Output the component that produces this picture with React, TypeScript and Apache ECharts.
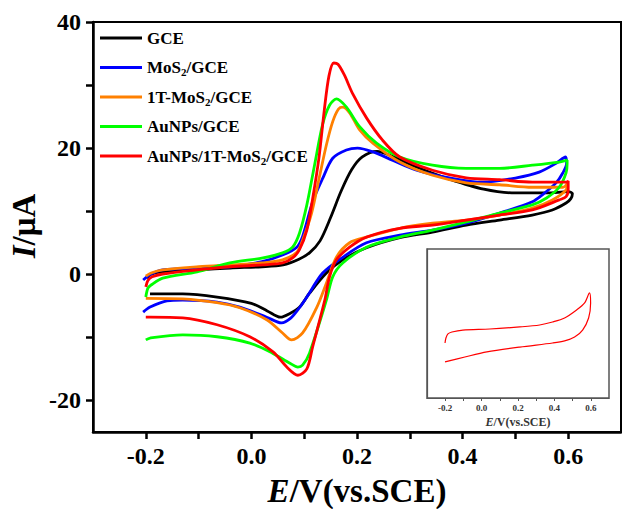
import React, { useEffect, useRef } from "react";
import * as echarts from "echarts";

const seriesNames = ["GCE", "MoS2/GCE", "1T-MoS2/GCE", "AuNPs/GCE", "AuNPs/1T-MoS2/GCE"];
const seriesColors = ["#000000", "#0000ff", "#ff8000", "#00ff00", "#ff0000"];

const xTickLabels = [-0.2, 0, 0.2, 0.4, 0.6];
const xTicks = [-0.2, -0.1, 0, 0.1, 0.2, 0.3, 0.4, 0.5, 0.6];
const yTickLabels = [-20, 0, 20, 40];
const yTicks = [-20, -10, 0, 10, 20, 30, 40];

const gce: number[][] = [
  [-0.198, -0.6], [-0.19, 0.0], [-0.17, 0.4], [-0.1, 0.7], [-0.04, 1.0], [0.02, 1.2], [0.06, 1.5],
  [0.09, 2.4], [0.11, 3.4], [0.13, 5.3], [0.15, 9.0], [0.17, 13.2], [0.19, 16.6], [0.21, 18.6],
  [0.238, 19.5], [0.267, 18.7], [0.31, 17.1], [0.375, 15.1], [0.44, 13.5], [0.5, 12.9], [0.56, 12.9],
  [0.6, 13.1], [0.608, 12.8],
  [0.605, 12.0], [0.596, 11.3], [0.57, 10.2], [0.532, 9.4], [0.47, 8.6], [0.407, 7.8], [0.343, 6.7],
  [0.281, 5.8], [0.218, 4.2], [0.173, 2.3], [0.142, 0.2], [0.11, -3.0], [0.091, -5.2], [0.073, -6.2],
  [0.055, -6.8], [0.03, -5.8], [0.0, -4.6], [-0.065, -3.6], [-0.13, -3.1], [-0.192, -3.1],
];

const mos2: number[][] = [
  [-0.205, -0.9], [-0.19, 0.05], [-0.168, 0.7], [-0.1, 1.0], [-0.04, 1.2], [0.02, 2.0], [0.06, 3.1],
  [0.086, 4.3], [0.097, 6.0], [0.116, 11.5], [0.135, 15.2], [0.154, 18.4], [0.18, 19.7], [0.201, 20.0],
  [0.23, 19.4], [0.267, 18.1], [0.313, 16.5], [0.375, 15.3], [0.438, 14.6], [0.502, 15.3], [0.545, 16.2],
  [0.577, 17.6], [0.595, 18.6],
  [0.597, 17.6], [0.59, 16.1], [0.577, 14.5], [0.551, 12.6], [0.532, 11.5], [0.47, 9.7], [0.407, 8.1],
  [0.343, 7.0], [0.281, 6.2], [0.218, 5.0], [0.173, 2.7], [0.135, 0.2], [0.105, -3.6], [0.091, -5.3],
  [0.075, -6.9], [0.057, -7.7], [0.029, -6.8], [-0.022, -5.2], [-0.065, -4.4], [-0.13, -4.1],
  [-0.16, -4.2], [-0.192, -5.2], [-0.205, -6.0],
];

const t1mos2: number[][] = [
  [-0.2, -0.3], [-0.19, 0.2], [-0.168, 0.7], [-0.1, 1.2], [-0.04, 1.5], [0.02, 1.8], [0.059, 2.3],
  [0.086, 3.5], [0.097, 5.4], [0.114, 9.7], [0.129, 15.5], [0.142, 20.5], [0.154, 24.2], [0.165, 26.2],
  [0.173, 26.5], [0.186, 25.6], [0.205, 22.9], [0.23, 20.8], [0.281, 17.8], [0.343, 15.7], [0.407, 14.5],
  [0.47, 14.2], [0.532, 13.8], [0.59, 13.8], [0.598, 14.4],
  [0.596, 13.4], [0.57, 11.8], [0.532, 10.5], [0.47, 9.4], [0.407, 8.6], [0.343, 8.1], [0.281, 7.3],
  [0.218, 5.9], [0.186, 5.0], [0.161, 2.7], [0.142, -1.4], [0.124, -5.2], [0.097, -9.3], [0.076, -10.4],
  [0.059, -9.3], [0.029, -7.2], [-0.022, -5.3], [-0.065, -4.5], [-0.13, -3.9], [-0.2, -3.8],
];

const aunps: number[][] = [
  [-0.2, -3.6], [-0.196, -2.2], [-0.19, -1.7], [-0.168, -0.6], [-0.103, 0.4], [-0.041, 1.8], [0.022, 2.6],
  [0.059, 3.4], [0.078, 4.3], [0.091, 6.5], [0.105, 11.0], [0.12, 17.5], [0.135, 23.8], [0.148, 26.8],
  [0.161, 27.8], [0.18, 26.5], [0.205, 23.4], [0.237, 20.8], [0.281, 18.6], [0.343, 17.3], [0.407, 16.8],
  [0.47, 16.8], [0.532, 17.3], [0.583, 17.8], [0.598, 18.1],
  [0.598, 17.6], [0.596, 16.1], [0.583, 13.8], [0.559, 12.1], [0.532, 11.0], [0.47, 9.7], [0.407, 8.3],
  [0.343, 7.0], [0.281, 5.9], [0.218, 4.3], [0.173, 1.8], [0.154, -0.4], [0.142, -4.1], [0.11, -12.5],
  [0.097, -14.4], [0.088, -14.7], [0.073, -14.1], [0.04, -12.5], [-0.003, -10.9], [-0.065, -9.9],
  [-0.13, -9.6], [-0.192, -10.1], [-0.2, -10.4],
];

const aunps1t: number[][] = [
  [-0.2, -2.0], [-0.196, -1.0], [-0.188, -0.4], [-0.168, 0.05], [-0.103, 0.7], [-0.041, 1.2], [0.022, 1.5],
  [0.059, 1.8], [0.078, 2.6], [0.091, 3.9], [0.105, 7.0], [0.116, 12.0], [0.128, 18.5], [0.138, 26.0],
  [0.147, 31.5], [0.156, 33.5], [0.164, 33.3], [0.176, 31.6], [0.192, 28.6], [0.218, 24.8], [0.248, 21.3],
  [0.281, 18.6], [0.343, 16.5], [0.407, 15.3], [0.47, 15.0], [0.532, 14.6], [0.596, 14.6], [0.6, 14.8],
  [0.6, 13.5], [0.596, 12.3], [0.583, 11.8], [0.532, 10.2], [0.47, 9.4], [0.407, 8.6], [0.343, 7.8],
  [0.281, 7.3], [0.218, 5.9], [0.186, 4.3], [0.161, 2.3], [0.148, -0.4], [0.139, -4.1], [0.116, -11.5],
  [0.105, -15.0], [0.088, -16.0], [0.067, -14.7], [0.041, -12.3], [-0.003, -9.9], [-0.065, -8.0],
  [-0.13, -6.9], [-0.192, -6.8], [-0.2, -6.8],
];

// inset (no y scale in the figure, arbitrary units)
const insetCurve: number[][] = [
  [-0.201, 3.69], [-0.196, 4.03], [-0.185, 4.3], [-0.163, 4.43], [-0.103, 4.56], [0.045, 4.63],
  [0.21, 4.77], [0.319, 4.9], [0.39, 5.1], [0.456, 5.37], [0.522, 5.91], [0.566, 6.38], [0.593, 7.05],
  [0.599, 6.38], [0.588, 5.37], [0.555, 4.56], [0.511, 4.09], [0.456, 3.83], [0.39, 3.69], [0.21, 3.42],
  [0.029, 3.09], [-0.092, 2.75], [-0.201, 2.42],
];
const insetXTickLabels = [-0.2, 0, 0.2, 0.4, 0.6];

const FONT = "'Liberation Serif', 'Times New Roman', serif";

export default function App() {
  const ref = useRef<HTMLDivElement>(null);
  useEffect(() => {
    if (!ref.current) return;
    const chart = echarts.init(ref.current, undefined, { renderer: "svg" });
    const allData = [gce, mos2, t1mos2, aunps, aunps1t];
    const option: any = {
      animation: false,
      backgroundColor: "#fff",
      grid: [
        { left: 93, top: 22, width: 528, height: 410, show: true, borderColor: "#000", borderWidth: 2, backgroundColor: "transparent" },
        { left: 427, top: 249, width: 182, height: 149, show: true, borderColor: "#555", borderWidth: 1.5, backgroundColor: "#fff" },
      ],
      legend: {
        orient: "vertical",
        left: 100,
        top: 28,
        padding: 0,
        icon: "rect",
        itemWidth: 42,
        itemHeight: 3,
        itemGap: 9.5,
        data: seriesNames,
        formatter: (n: string) => n.replace(/MoS2/g, "MoS{sub|2}"),
        textStyle: {
          fontFamily: FONT,
          fontWeight: "bold",
          fontSize: 17,
          color: "#000",
          lineHeight: 20,
          rich: {
            sub: { fontFamily: FONT, fontWeight: "bold", fontSize: 11, lineHeight: 11, verticalAlign: "bottom", color: "#000" },
          },
        },
      },
      xAxis: [
        {
          gridIndex: 0,
          type: "value",
          min: -0.3,
          max: 0.7,
          axisLine: { show: true, onZero: false, lineStyle: { color: "#000", width: 2.5 } },
          axisTick: { show: true, customValues: xTicks, length: 7, lineStyle: { color: "#000", width: 2.5 } },
          axisLabel: {
            customValues: xTickLabels,
            formatter: (v: number) => v.toFixed(1),
            margin: 12,
            fontFamily: FONT,
            fontWeight: "bold",
            fontSize: 24,
            color: "#000",
          },
          splitLine: { show: false },
        },
        {
          gridIndex: 1,
          type: "value",
          min: -0.3,
          max: 0.7,
          axisLine: { show: true, onZero: false, lineStyle: { color: "#555", width: 1.2 } },
          axisTick: { show: true, customValues: xTicks, length: 3, lineStyle: { color: "#555", width: 1 } },
          axisLabel: {
            customValues: insetXTickLabels,
            formatter: (v: number) => v.toFixed(1),
            margin: 5,
            fontFamily: FONT,
            fontWeight: "bold",
            fontSize: 9,
            color: "#333",
          },
          splitLine: { show: false },
          name: "{i|E}/V(vs.SCE)",
          nameLocation: "middle",
          nameGap: 18,
          nameTextStyle: {
            fontFamily: FONT,
            fontWeight: "bold",
            fontSize: 12,
            color: "#333",
            rich: { i: { fontFamily: FONT, fontWeight: "bold", fontStyle: "italic", fontSize: 12, color: "#333" } },
          },
        },
      ],
      yAxis: [
        {
          gridIndex: 0,
          type: "value",
          min: -25,
          max: 40,
          axisLine: { show: true, onZero: false, lineStyle: { color: "#000", width: 2.5 } },
          axisTick: { show: true, customValues: yTicks, length: 7, lineStyle: { color: "#000", width: 2.5 } },
          axisLabel: {
            customValues: yTickLabels,
            formatter: (v: number) => String(v),
            margin: 12,
            fontFamily: FONT,
            fontWeight: "bold",
            fontSize: 24,
            color: "#000",
          },
          splitLine: { show: false },
        },
        {
          gridIndex: 1,
          type: "value",
          min: 0,
          max: 10,
          axisLine: { show: true, onZero: false, lineStyle: { color: "#555", width: 1.2 } },
          axisTick: { show: false },
          axisLabel: { show: false },
          splitLine: { show: false },
        },
      ],
      graphic: [
        {
          type: "text",
          x: 357,
          y: 491,
          style: {
            text: "{i|E}{n|/V(vs.SCE)}",
            align: "center",
            verticalAlign: "middle",
            rich: {
              i: { fontFamily: FONT, fontWeight: "bold", fontStyle: "italic", fontSize: 33, fill: "#000" },
              n: { fontFamily: FONT, fontWeight: "bold", fontSize: 33, fill: "#000" },
            },
          },
        },
        {
          type: "text",
          x: 24,
          y: 226,
          rotation: Math.PI / 2,
          style: {
            text: "{i|I}{n|/μA}",
            align: "center",
            verticalAlign: "middle",
            rich: {
              i: { fontFamily: FONT, fontWeight: "bold", fontStyle: "italic", fontSize: 33, fill: "#000" },
              n: { fontFamily: FONT, fontWeight: "bold", fontSize: 33, fill: "#000" },
            },
          },
        },
      ],
      series: [
        ...allData.map((d, i) => ({
          name: seriesNames[i],
          type: "line",
          xAxisIndex: 0,
          yAxisIndex: 0,
          data: d,
          color: seriesColors[i],
          showSymbol: false,
          symbol: "none",
          smooth: 0.3,
          lineStyle: { color: seriesColors[i], width: 2.8 },
          itemStyle: { color: seriesColors[i] },
          z: 2 + i,
        })),
        {
          name: "inset",
          type: "line",
          xAxisIndex: 1,
          yAxisIndex: 1,
          data: insetCurve,
          showSymbol: false,
          symbol: "none",
          smooth: 0.3,
          lineStyle: { color: "#ff0000", width: 1.2 },
          itemStyle: { color: "#ff0000" },
          z: 10,
        },
      ],
    };
    chart.setOption(option);
    return () => chart.dispose();
  }, []);
  return (
    <div
      ref={ref}
      style={{ position: "absolute", left: 0, top: 0, width: 622, height: 509 }}
    />
  );
}
